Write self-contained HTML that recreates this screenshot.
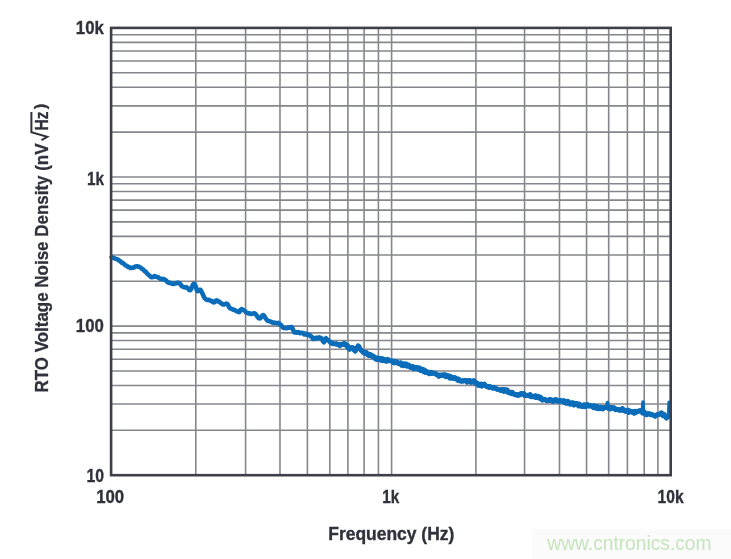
<!DOCTYPE html>
<html><head><meta charset="utf-8"><style>
html,body{margin:0;padding:0;background:#fff;width:731px;height:559px;overflow:hidden}
svg{display:block;will-change:transform}
</style></head><body><svg width="731" height="559" viewBox="0 0 731 559"><g stroke="#86878c" stroke-width="1.6" fill="none"><line x1="195.80" y1="27.90" x2="195.80" y2="475.20"/><line x1="245.60" y1="27.90" x2="245.60" y2="475.20"/><line x1="279.98" y1="27.90" x2="279.98" y2="475.20"/><line x1="307.40" y1="27.90" x2="307.40" y2="475.20"/><line x1="329.80" y1="27.90" x2="329.80" y2="475.20"/><line x1="347.90" y1="27.90" x2="347.90" y2="475.20"/><line x1="364.11" y1="27.90" x2="364.11" y2="475.20"/><line x1="378.41" y1="27.90" x2="378.41" y2="475.20"/><line x1="475.90" y1="27.90" x2="475.90" y2="475.20"/><line x1="524.56" y1="27.90" x2="524.56" y2="475.20"/><line x1="559.48" y1="27.90" x2="559.48" y2="475.20"/><line x1="586.56" y1="27.90" x2="586.56" y2="475.20"/><line x1="608.69" y1="27.90" x2="608.69" y2="475.20"/><line x1="627.40" y1="27.90" x2="627.40" y2="475.20"/><line x1="644.20" y1="27.90" x2="644.20" y2="475.20"/><line x1="657.91" y1="27.90" x2="657.91" y2="475.20"/><line x1="391.60" y1="27.90" x2="391.60" y2="475.20"/><line x1="111.10" y1="430.32" x2="670.70" y2="430.32"/><line x1="111.10" y1="404.06" x2="670.70" y2="404.06"/><line x1="111.10" y1="385.43" x2="670.70" y2="385.43"/><line x1="111.10" y1="370.98" x2="670.70" y2="370.98"/><line x1="111.10" y1="359.18" x2="670.70" y2="359.18"/><line x1="111.10" y1="349.20" x2="670.70" y2="349.20"/><line x1="111.10" y1="340.55" x2="670.70" y2="340.55"/><line x1="111.10" y1="332.92" x2="670.70" y2="332.92"/><line x1="111.10" y1="281.22" x2="670.70" y2="281.22"/><line x1="111.10" y1="254.96" x2="670.70" y2="254.96"/><line x1="111.10" y1="236.33" x2="670.70" y2="236.33"/><line x1="111.10" y1="221.88" x2="670.70" y2="221.88"/><line x1="111.10" y1="210.08" x2="670.70" y2="210.08"/><line x1="111.10" y1="200.10" x2="670.70" y2="200.10"/><line x1="111.10" y1="191.45" x2="670.70" y2="191.45"/><line x1="111.10" y1="183.82" x2="670.70" y2="183.82"/><line x1="111.10" y1="132.12" x2="670.70" y2="132.12"/><line x1="111.10" y1="105.86" x2="670.70" y2="105.86"/><line x1="111.10" y1="87.23" x2="670.70" y2="87.23"/><line x1="111.10" y1="72.78" x2="670.70" y2="72.78"/><line x1="111.10" y1="60.98" x2="670.70" y2="60.98"/><line x1="111.10" y1="51.00" x2="670.70" y2="51.00"/><line x1="111.10" y1="42.35" x2="670.70" y2="42.35"/><line x1="111.10" y1="34.72" x2="670.70" y2="34.72"/><line x1="111.10" y1="326.10" x2="670.70" y2="326.10"/><line x1="111.10" y1="177.00" x2="670.70" y2="177.00"/></g><path d="M111.5,257.1 L112.0,257.2 L112.8,257.8 L113.7,257.7 L114.6,258.4 L115.6,258.7 L116.5,258.9 L117.3,259.5 L118.2,259.7 L119.0,260.5 L119.8,260.8 L120.5,261.4 L121.4,262.2 L122.2,262.9 L123.0,263.1 L123.9,263.8 L124.8,264.7 L125.6,265.4 L126.5,265.7 L127.4,266.2 L128.2,267.0 L129.1,267.0 L130.0,267.9 L130.8,267.8 L131.7,267.9 L132.6,267.8 L133.4,267.5 L134.3,267.4 L135.1,266.6 L136.0,266.5 L136.8,266.4 L137.7,266.4 L138.5,266.8 L139.4,266.9 L140.3,267.4 L141.1,268.0 L141.9,268.8 L142.8,269.3 L143.6,269.9 L144.3,270.7 L145.1,271.4 L146.0,272.1 L146.8,273.2 L147.7,274.0 L148.6,274.7 L149.5,275.7 L150.4,276.4 L151.2,277.1 L152.1,277.2 L152.9,276.8 L153.6,276.9 L154.4,276.1 L155.3,276.3 L156.1,276.7 L157.0,276.7 L157.9,277.4 L158.7,277.6 L159.6,278.4 L160.4,278.8 L161.3,278.9 L162.1,279.1 L162.9,278.9 L163.7,279.2 L164.5,279.5 L165.3,280.0 L166.1,280.5 L166.9,281.5 L167.7,282.2 L168.6,282.5 L169.4,282.9 L170.2,282.8 L171.1,283.5 L172.0,283.6 L172.8,283.9 L173.7,283.9 L174.6,283.5 L175.5,283.4 L176.4,283.3 L177.3,282.8 L178.1,282.9 L178.9,282.9 L179.9,283.6 L180.8,284.6 L181.7,286.1 L182.6,286.6 L183.5,287.0 L184.4,287.2 L185.4,287.5 L186.3,287.1 L187.1,287.6 L188.2,288.6 L189.1,290.0 L190.2,290.1 L191.0,289.2 L191.8,287.2 L192.7,285.4 L193.5,283.9 L194.3,283.7 L195.4,285.7 L196.3,288.6 L197.3,291.1 L198.3,291.0 L199.3,289.8 L200.4,289.9 L201.2,291.1 L202.1,292.8 L203.0,294.8 L204.0,297.0 L204.9,298.4 L205.9,299.3 L206.8,299.9 L207.8,299.9 L208.8,299.9 L209.7,300.2 L210.6,300.7 L211.4,300.8 L212.3,301.8 L213.1,302.2 L213.8,302.4 L214.8,301.9 L215.6,300.7 L216.8,300.4 L217.5,300.6 L218.4,301.5 L219.3,301.8 L220.3,302.6 L221.3,303.4 L222.2,304.0 L223.0,304.5 L224.0,304.4 L224.8,304.2 L225.6,303.9 L226.4,303.6 L227.1,303.9 L228.1,304.9 L229.0,307.0 L230.2,308.4 L230.9,308.6 L231.8,309.0 L232.8,309.5 L233.7,309.8 L234.7,310.0 L235.6,310.7 L236.3,311.1 L237.6,311.5 L238.6,312.1 L239.4,312.0 L240.2,310.3 L241.5,309.1 L242.2,309.3 L242.9,310.1 L243.8,310.3 L244.8,310.9 L245.8,312.1 L246.8,312.6 L247.7,312.9 L248.6,313.5 L249.4,313.4 L250.3,313.7 L251.1,314.0 L252.0,313.8 L252.8,313.6 L253.6,313.3 L254.3,313.4 L255.0,313.5 L256.0,314.7 L256.9,315.8 L257.8,317.2 L258.6,318.0 L259.4,318.4 L260.4,318.3 L261.3,317.0 L262.3,315.6 L263.2,315.0 L264.1,315.8 L265.0,317.3 L265.9,318.7 L267.0,320.2 L267.8,320.7 L268.7,320.9 L269.6,321.2 L270.6,321.7 L271.6,322.0 L272.5,322.6 L273.4,322.9 L274.3,322.5 L275.3,323.0 L276.2,323.0 L277.1,323.1 L278.0,322.9 L278.9,323.3 L279.8,324.1 L280.8,324.9 L281.7,325.8 L282.6,327.0 L283.4,327.8 L284.4,328.1 L285.3,327.9 L286.1,328.2 L287.0,328.3 L287.8,327.4 L288.9,327.8 L289.9,327.5 L290.9,327.0 L291.7,327.1 L292.7,329.1 L293.8,331.3 L294.5,332.4 L295.2,332.0 L296.1,332.6 L297.0,332.8 L297.9,332.1 L298.8,332.2 L299.7,333.1 L300.6,333.1 L301.5,332.7 L302.5,332.9 L303.4,333.2 L304.2,334.4 L305.1,334.4 L306.0,333.6 L306.9,334.5 L307.7,334.9 L308.6,334.7 L309.5,334.9 L310.4,336.1 L311.2,336.4 L312.1,337.1 L313.0,339.0 L313.9,338.7 L314.8,338.3 L315.6,338.7 L316.5,337.7 L317.4,338.3 L318.3,338.3 L319.2,337.4 L320.1,337.7 L321.0,338.0 L321.7,338.4 L322.9,341.2 L323.9,342.3 L324.9,340.7 L326.1,338.2 L326.9,339.8 L327.9,339.8 L329.0,341.1 L330.0,342.1 L330.8,343.1 L331.7,342.7 L332.5,343.8 L333.4,343.4 L334.4,343.8 L335.3,344.1 L336.2,343.5 L337.1,344.6 L338.0,344.4 L338.9,344.3 L339.8,345.9 L340.8,344.5 L341.7,344.6 L342.6,344.6 L343.4,343.9 L344.2,343.4 L345.1,344.1 L346.0,344.9 L346.8,346.1 L347.5,345.6 L348.7,348.5 L349.7,349.2 L350.7,347.9 L351.9,347.6 L352.7,347.6 L353.5,348.8 L354.4,350.3 L355.2,351.1 L356.2,348.9 L357.3,347.3 L358.2,345.9 L359.0,346.7 L359.8,348.7 L360.6,349.6 L361.4,350.4 L362.2,350.9 L363.1,352.4 L363.9,352.3 L364.7,353.2 L365.5,353.7 L366.3,352.5 L367.2,353.6 L368.0,355.0 L368.9,355.4 L369.8,354.3 L370.7,354.9 L371.6,356.2 L372.5,355.8 L373.4,356.6 L374.2,356.7 L375.1,358.5 L376.0,359.1 L376.9,359.6 L377.7,358.0 L378.6,359.5 L379.4,359.5 L380.3,358.4 L381.2,360.3 L382.0,360.6 L382.9,358.9 L383.8,360.7 L384.7,359.5 L385.5,359.9 L386.3,361.2 L387.2,361.0 L388.0,359.6 L388.8,360.4 L389.6,360.8 L390.6,360.7 L391.5,360.7 L392.4,361.4 L393.5,362.7 L394.3,361.2 L395.2,362.7 L396.1,362.7 L397.0,361.9 L398.0,362.9 L398.9,363.8 L399.8,363.8 L400.7,362.9 L401.7,365.3 L402.6,365.1 L403.5,365.7 L404.4,363.9 L405.3,364.5 L406.1,364.1 L407.0,366.1 L407.8,365.1 L408.6,365.0 L409.4,365.9 L410.3,367.4 L411.2,367.5 L412.1,366.5 L412.9,366.5 L413.8,368.7 L414.7,368.1 L415.6,368.6 L416.5,367.4 L417.3,367.5 L418.1,369.2 L419.0,368.8 L419.8,368.1 L420.6,370.4 L421.4,369.9 L422.2,370.7 L423.0,369.4 L423.8,371.7 L424.7,370.3 L425.5,372.5 L426.4,371.8 L427.3,371.8 L428.2,372.5 L429.1,373.7 L430.0,372.4 L430.8,372.3 L431.7,373.5 L432.5,373.0 L433.4,373.0 L434.3,373.4 L435.2,373.5 L436.0,374.2 L436.9,374.8 L437.8,375.0 L438.7,376.2 L439.5,375.2 L440.4,375.7 L441.2,375.0 L442.2,375.5 L443.1,374.8 L444.0,375.4 L445.0,374.9 L446.0,376.7 L446.9,376.4 L447.7,375.6 L448.7,376.5 L449.5,377.9 L450.2,376.2 L451.0,378.1 L451.9,377.3 L452.9,377.5 L453.8,378.5 L454.8,377.6 L455.8,378.2 L456.7,379.1 L457.7,380.2 L458.6,379.1 L459.5,380.8 L460.5,380.9 L461.4,381.2 L462.4,380.9 L463.4,381.0 L464.3,380.4 L465.3,380.7 L466.3,380.5 L467.2,382.2 L468.0,381.0 L468.9,380.7 L469.8,380.5 L470.6,382.2 L471.5,382.3 L472.4,381.7 L473.3,380.8 L473.9,380.8 L474.4,381.6 L475.0,382.9 L475.7,382.4 L476.5,383.4 L477.4,383.3 L478.4,385.3 L479.4,385.6 L480.2,384.7 L481.0,384.1 L481.9,386.0 L482.8,384.6 L483.6,384.8 L484.4,384.2 L485.3,385.5 L486.2,386.1 L487.0,386.6 L487.9,386.3 L488.8,387.4 L489.7,386.5 L490.6,387.3 L491.5,387.2 L492.4,388.1 L493.3,387.5 L494.2,387.6 L495.1,388.4 L495.9,388.3 L496.7,389.2 L497.5,389.1 L498.6,389.8 L499.3,389.7 L500.1,390.0 L501.0,390.5 L501.9,389.5 L502.8,389.5 L503.7,391.3 L504.6,389.5 L505.5,391.1 L506.3,391.1 L507.2,390.0 L508.0,392.2 L508.8,392.7 L509.6,392.4 L510.4,393.0 L511.2,393.6 L512.0,392.2 L512.8,393.4 L513.6,393.6 L514.5,394.6 L515.4,394.7 L516.2,394.9 L517.1,394.5 L517.9,395.4 L518.7,395.0 L519.4,395.1 L520.4,394.0 L521.3,393.5 L522.1,393.7 L522.9,394.2 L523.8,393.7 L524.6,395.5 L525.5,395.0 L526.4,395.3 L527.4,395.5 L528.3,395.8 L529.2,395.5 L530.1,394.6 L531.0,396.7 L532.0,396.7 L532.9,396.3 L533.8,396.6 L534.7,397.1 L535.6,395.8 L536.4,397.6 L537.3,396.6 L538.1,396.3 L538.8,396.9 L539.6,398.2 L540.6,397.3 L541.5,399.0 L542.4,400.0 L543.5,399.2 L544.3,399.2 L545.2,399.6 L546.1,400.3 L547.0,400.7 L548.0,400.5 L548.9,400.7 L549.8,399.4 L550.7,399.7 L551.7,400.0 L552.6,401.3 L553.5,400.3 L554.4,400.9 L555.3,399.6 L556.1,399.7 L557.0,400.2 L557.8,401.2 L558.6,401.3 L559.4,401.3 L560.3,400.4 L561.1,401.1 L561.9,401.1 L562.8,401.3 L563.8,400.7 L564.5,402.7 L565.3,401.2 L566.1,403.2 L567.0,403.3 L567.8,401.3 L568.7,402.5 L569.5,403.5 L570.3,404.1 L571.3,403.0 L572.2,402.8 L573.1,402.9 L574.0,404.9 L574.9,403.3 L575.8,404.4 L576.7,403.5 L577.6,404.7 L578.6,405.9 L579.5,404.1 L580.4,405.9 L581.3,405.3 L582.2,406.4 L583.1,406.0 L584.1,404.9 L585.0,406.6 L585.9,405.6 L586.7,404.6 L587.6,404.7 L588.4,406.0 L589.2,406.0 L590.0,405.8 L591.1,405.6 L591.8,406.2 L592.6,406.2 L593.5,407.6 L594.4,405.8 L595.4,407.7 L596.3,408.1 L597.2,406.5 L598.0,408.6 L598.8,408.1 L599.8,408.7 L600.6,407.2 L601.4,407.5 L602.2,407.5 L602.9,408.9 L603.7,408.0 L604.5,407.4 L605.3,407.6 L606.1,407.2 L606.9,406.6 L607.8,406.7 L608.6,408.5 L609.5,407.3 L610.3,408.9 L611.2,407.4 L612.1,407.6 L613.0,408.3 L613.8,407.7 L614.7,408.2 L615.6,409.7 L616.4,409.6 L617.2,409.6 L618.1,409.3 L619.0,410.1 L619.9,410.3 L620.8,409.5 L621.7,410.0 L622.5,408.6 L623.5,410.5 L624.4,410.1 L625.3,411.2 L626.3,411.2 L627.1,410.5 L627.9,410.2 L628.7,412.5 L629.5,410.8 L630.3,411.8 L631.1,411.6 L632.1,411.6 L633.1,412.7 L634.0,413.2 L634.9,411.4 L635.9,412.3 L636.9,411.3 L637.8,411.7 L638.7,411.2 L639.7,410.6 L640.7,410.6 L641.6,410.9 L642.5,412.9 L643.5,412.3 L644.5,412.1 L645.4,414.2 L646.3,414.8 L647.3,414.0 L648.3,413.6 L649.0,414.0 L649.8,413.9 L650.6,414.7 L651.5,414.3 L652.3,414.8 L653.1,414.9 L654.1,415.6 L655.0,416.2 L656.0,415.7 L657.0,414.7 L657.9,414.5 L658.8,414.6 L659.7,414.0 L660.5,413.7 L661.3,412.9 L662.2,413.6 L663.1,415.7 L664.0,414.3 L664.9,416.0 L665.7,417.0 L666.5,418.0 L667.7,416.3 L668.8,415.9 L669.5,415.4" stroke="#0b6dba" stroke-width="4.6" fill="none" stroke-linejoin="round" stroke-linecap="round"/><path d="M340.8,344.5 L341.7,344.6 L342.6,344.6 L343.4,343.9 L344.2,343.4 L345.1,344.1 L346.0,344.9 L346.8,346.1 L347.5,345.6 L348.7,348.5 L349.7,349.2 L350.7,347.9 L351.9,347.6 L352.7,347.6 L353.5,348.8 L354.4,350.3 L355.2,351.1 L356.2,348.9 L357.3,347.3 L358.2,345.9 L359.0,346.7 L359.8,348.7 L360.6,349.6 L361.4,350.4 L362.2,350.9 L363.1,352.4 L363.9,352.3 L364.7,353.2 L365.5,353.7 L366.3,352.5 L367.2,353.6 L368.0,355.0 L368.9,355.4 L369.8,354.3 L370.7,354.9 L371.6,356.2 L372.5,355.8 L373.4,356.6 L374.2,356.7 L375.1,358.5 L376.0,359.1 L376.9,359.6 L377.7,358.0 L378.6,359.5 L379.4,359.5 L380.3,358.4 L381.2,360.3 L382.0,360.6 L382.9,358.9 L383.8,360.7 L384.7,359.5 L385.5,359.9 L386.3,361.2 L387.2,361.0 L388.0,359.6 L388.8,360.4 L389.6,360.8 L390.6,360.7 L391.5,360.7 L392.4,361.4 L393.5,362.7 L394.3,361.2 L395.2,362.7 L396.1,362.7 L397.0,361.9 L398.0,362.9 L398.9,363.8 L399.8,363.8 L400.7,362.9 L401.7,365.3 L402.6,365.1 L403.5,365.7 L404.4,363.9 L405.3,364.5 L406.1,364.1 L407.0,366.1 L407.8,365.1 L408.6,365.0 L409.4,365.9 L410.3,367.4 L411.2,367.5 L412.1,366.5 L412.9,366.5 L413.8,368.7 L414.7,368.1 L415.6,368.6 L416.5,367.4 L417.3,367.5 L418.1,369.2 L419.0,368.8 L419.8,368.1 L420.6,370.4 L421.4,369.9 L422.2,370.7 L423.0,369.4 L423.8,371.7 L424.7,370.3 L425.5,372.5 L426.4,371.8 L427.3,371.8 L428.2,372.5 L429.1,373.7 L430.0,372.4 L430.8,372.3 L431.7,373.5 L432.5,373.0 L433.4,373.0 L434.3,373.4 L435.2,373.5 L436.0,374.2 L436.9,374.8 L437.8,375.0 L438.7,376.2 L439.5,375.2 L440.4,375.7 L441.2,375.0 L442.2,375.5 L443.1,374.8 L444.0,375.4 L445.0,374.9 L446.0,376.7 L446.9,376.4 L447.7,375.6 L448.7,376.5 L449.5,377.9 L450.2,376.2 L451.0,378.1 L451.9,377.3 L452.9,377.5 L453.8,378.5 L454.8,377.6 L455.8,378.2 L456.7,379.1 L457.7,380.2 L458.6,379.1 L459.5,380.8 L460.5,380.9 L461.4,381.2 L462.4,380.9 L463.4,381.0 L464.3,380.4 L465.3,380.7 L466.3,380.5 L467.2,382.2 L468.0,381.0 L468.9,380.7 L469.8,380.5 L470.6,382.2 L471.5,382.3 L472.4,381.7 L473.3,380.8 L473.9,380.8 L474.4,381.6 L475.0,382.9 L475.7,382.4 L476.5,383.4 L477.4,383.3 L478.4,385.3 L479.4,385.6 L480.2,384.7 L481.0,384.1 L481.9,386.0 L482.8,384.6 L483.6,384.8 L484.4,384.2 L485.3,385.5 L486.2,386.1 L487.0,386.6 L487.9,386.3 L488.8,387.4 L489.7,386.5 L490.6,387.3 L491.5,387.2 L492.4,388.1 L493.3,387.5 L494.2,387.6 L495.1,388.4 L495.9,388.3 L496.7,389.2 L497.5,389.1 L498.6,389.8 L499.3,389.7 L500.1,390.0 L501.0,390.5 L501.9,389.5 L502.8,389.5 L503.7,391.3 L504.6,389.5 L505.5,391.1 L506.3,391.1 L507.2,390.0 L508.0,392.2 L508.8,392.7 L509.6,392.4 L510.4,393.0 L511.2,393.6 L512.0,392.2 L512.8,393.4 L513.6,393.6 L514.5,394.6 L515.4,394.7 L516.2,394.9 L517.1,394.5 L517.9,395.4 L518.7,395.0 L519.4,395.1 L520.4,394.0 L521.3,393.5 L522.1,393.7 L522.9,394.2 L523.8,393.7 L524.6,395.5 L525.5,395.0 L526.4,395.3 L527.4,395.5 L528.3,395.8 L529.2,395.5 L530.1,394.6 L531.0,396.7 L532.0,396.7 L532.9,396.3 L533.8,396.6 L534.7,397.1 L535.6,395.8 L536.4,397.6 L537.3,396.6 L538.1,396.3 L538.8,396.9 L539.6,398.2 L540.6,397.3 L541.5,399.0 L542.4,400.0 L543.5,399.2 L544.3,399.2 L545.2,399.6 L546.1,400.3 L547.0,400.7 L548.0,400.5 L548.9,400.7 L549.8,399.4 L550.7,399.7 L551.7,400.0 L552.6,401.3 L553.5,400.3 L554.4,400.9 L555.3,399.6 L556.1,399.7 L557.0,400.2 L557.8,401.2 L558.6,401.3 L559.4,401.3 L560.3,400.4 L561.1,401.1 L561.9,401.1 L562.8,401.3 L563.8,400.7 L564.5,402.7 L565.3,401.2 L566.1,403.2 L567.0,403.3 L567.8,401.3 L568.7,402.5 L569.5,403.5 L570.3,404.1 L571.3,403.0 L572.2,402.8 L573.1,402.9 L574.0,404.9 L574.9,403.3 L575.8,404.4 L576.7,403.5 L577.6,404.7 L578.6,405.9 L579.5,404.1 L580.4,405.9 L581.3,405.3 L582.2,406.4 L583.1,406.0 L584.1,404.9 L585.0,406.6 L585.9,405.6 L586.7,404.6 L587.6,404.7 L588.4,406.0 L589.2,406.0 L590.0,405.8 L591.1,405.6 L591.8,406.2 L592.6,406.2 L593.5,407.6 L594.4,405.8 L595.4,407.7 L596.3,408.1 L597.2,406.5 L598.0,408.6 L598.8,408.1 L599.8,408.7 L600.6,407.2 L601.4,407.5 L602.2,407.5 L602.9,408.9 L603.7,408.0 L604.5,407.4 L605.3,407.6 L606.1,407.2 L606.9,406.6 L607.8,406.7 L608.6,408.5 L609.5,407.3 L610.3,408.9 L611.2,407.4 L612.1,407.6 L613.0,408.3 L613.8,407.7 L614.7,408.2 L615.6,409.7 L616.4,409.6 L617.2,409.6 L618.1,409.3 L619.0,410.1 L619.9,410.3 L620.8,409.5 L621.7,410.0 L622.5,408.6 L623.5,410.5 L624.4,410.1 L625.3,411.2 L626.3,411.2 L627.1,410.5 L627.9,410.2 L628.7,412.5 L629.5,410.8 L630.3,411.8 L631.1,411.6 L632.1,411.6 L633.1,412.7 L634.0,413.2 L634.9,411.4 L635.9,412.3 L636.9,411.3 L637.8,411.7 L638.7,411.2 L639.7,410.6 L640.7,410.6 L641.6,410.9 L642.5,412.9 L643.5,412.3 L644.5,412.1 L645.4,414.2 L646.3,414.8 L647.3,414.0 L648.3,413.6 L649.0,414.0 L649.8,413.9 L650.6,414.7 L651.5,414.3 L652.3,414.8 L653.1,414.9 L654.1,415.6 L655.0,416.2 L656.0,415.7 L657.0,414.7 L657.9,414.5 L658.8,414.6 L659.7,414.0 L660.5,413.7 L661.3,412.9 L662.2,413.6 L663.1,415.7 L664.0,414.3 L664.9,416.0 L665.7,417.0 L666.5,418.0 L667.7,416.3 L668.8,415.9 L669.5,415.4" stroke="#0b6dba" stroke-width="4.9" fill="none" stroke-linejoin="round" stroke-linecap="round"/><path d="M606.9,407.0 L607.5,402.5 L608.1,407.0" stroke="#0b6dba" stroke-width="3.6" fill="none" stroke-linejoin="round" stroke-linecap="round"/><path d="M642.4,411.5 L643.0,402.0 L643.6,411.5" stroke="#0b6dba" stroke-width="3.6" fill="none" stroke-linejoin="round" stroke-linecap="round"/><path d="M668.6,414.0 L669.2,402.2 L669.8,414.0" stroke="#0b6dba" stroke-width="3.6" fill="none" stroke-linejoin="round" stroke-linecap="round"/><rect x="111.10" y="27.90" width="559.60" height="447.30" fill="none" stroke="#3d4049" stroke-width="2.6"/><g font-family="Liberation Sans, sans-serif" font-weight="bold" fill="#2f323b" stroke="#2f323b" stroke-width="0.35"><text x="103.8" y="33.8" font-size="18" text-anchor="end" textLength="28" lengthAdjust="spacingAndGlyphs">10k</text><text x="104" y="184.6" font-size="18" text-anchor="end" textLength="17" lengthAdjust="spacingAndGlyphs">1k</text><text x="103.8" y="331.6" font-size="18" text-anchor="end" textLength="28" lengthAdjust="spacingAndGlyphs">100</text><text x="104" y="481.7" font-size="18" text-anchor="end" textLength="17.5" lengthAdjust="spacingAndGlyphs">10</text><text x="110.2" y="503.2" font-size="18" text-anchor="middle" textLength="28" lengthAdjust="spacingAndGlyphs">100</text><text x="390.8" y="502.6" font-size="18" text-anchor="middle" textLength="17" lengthAdjust="spacingAndGlyphs">1k</text><text x="670.6" y="502.6" font-size="18" text-anchor="middle" textLength="26" lengthAdjust="spacingAndGlyphs">10k</text><text x="391.3" y="539.6" font-size="17.5" text-anchor="middle" textLength="126" lengthAdjust="spacingAndGlyphs">Frequency (Hz)</text></g><g transform="translate(48.2,392.5) rotate(-90)" font-family="Liberation Sans, sans-serif" font-weight="bold" fill="#2f323b" stroke="#2f323b" stroke-width="0.3" font-size="18.5"><text x="0" y="0" textLength="249" lengthAdjust="spacingAndGlyphs">RTO Voltage Noise Density (nV</text><text x="262" y="0" textLength="19" lengthAdjust="spacingAndGlyphs">Hz</text><text x="283.3" y="-2.5" font-size="16" textLength="5.6" lengthAdjust="spacingAndGlyphs">)</text></g><path d="M31.4,112 L31.4,132.2 L47.3,136.8 L41.5,140.2" stroke="#2f323b" stroke-width="2" fill="none" stroke-linejoin="miter"/><rect x="531.5" y="528.7" width="200" height="31" fill="#fbfbfb"/><text x="547.3" y="549.6" font-family="Liberation Sans, sans-serif" font-size="19.6" fill="#c6e4bd" textLength="164.2" lengthAdjust="spacingAndGlyphs">www.cntronics.com</text></svg></body></html>
